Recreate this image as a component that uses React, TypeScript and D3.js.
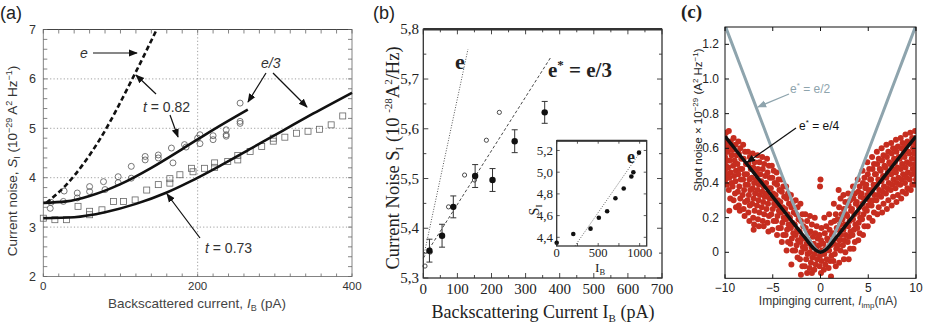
import React from "react";
import * as d3 from "d3";

const SANS = "'Liberation Sans', Arial, sans-serif";
const SERIF = "'Liberation Serif', 'Times New Roman', serif";

// ---------- panel (a) ----------
const aXTicks = [0, 200, 400];
const aYTicks = [2, 3, 4, 5, 6, 7];
const aCircles: [number, number][] = [
  [9, 3.38], [10, 3.5], [26, 3.52], [27, 3.73], [44, 3.69], [44, 3.59], [60, 3.82], [60, 3.72],
  [78, 3.92], [80, 3.76], [97, 4.02], [97, 3.9], [114, 3.99], [114, 4.23], [132, 4.43], [132, 4.36],
  [149, 4.46], [149, 4.4], [166, 4.6], [168, 4.3], [183, 4.67], [185, 4.62], [200, 4.8], [203, 4.87],
  [203, 4.69], [220, 4.77], [220, 4.85], [237, 4.97], [237, 4.87], [237, 4.84], [255, 5.51],
  [255, 5.14], [255, 5.1],
];
const aSquares: [number, number][] = [
  [0, 3.18], [15, 3.15], [30, 3.15], [45, 3.42], [60, 3.32], [60, 3.25], [76, 3.35], [91, 3.52],
  [104, 3.52], [119, 3.55], [134, 3.75], [149, 3.86], [164, 3.89], [164, 3.98], [177, 4.06],
  [192, 4.19], [194, 4.12], [209, 4.19], [222, 4.21], [222, 4.3], [239, 4.33], [252, 4.36],
  [252, 4.45], [268, 4.53], [283, 4.63], [298, 4.74], [298, 4.8], [313, 4.82], [328, 4.9],
  [343, 4.94], [358, 4.98], [373, 5.07], [388, 5.25],
];
const aFitHigh: [number, number][] = [
  [0, 3.49], [30, 3.52], [60, 3.63], [100, 3.87], [140, 4.2], [180, 4.58], [220, 4.97], [265, 5.38],
];
const aFitLow: [number, number][] = [
  [0, 3.18], [40, 3.2], [80, 3.3], [120, 3.47], [160, 3.7], [190, 3.92], [230, 4.25], [270, 4.6],
  [310, 4.95], [350, 5.3], [400, 5.72],
];
const aFitE: [number, number][] = [[4, 3.49], [30, 3.86], [73, 4.77], [116, 6.02], [146, 6.97]];

// ---------- panel (b) ----------
const bXTicks = [0, 100, 200, 300, 400, 500, 600, 700];
const bYTicks = [5.3, 5.4, 5.5, 5.6, 5.7, 5.8];
// [I_B, S_I, error]
const bFilled: [number, number, number][] = [
  [18, 5.355, 0.023], [55, 5.385, 0.023], [88, 5.443, 0.022], [152, 5.505, 0.023],
  [203, 5.497, 0.023], [268, 5.575, 0.023], [356, 5.633, 0.022],
];
const bOpen: [number, number][] = [
  [5, 5.324], [20, 5.352], [74, 5.443], [121, 5.507], [150, 5.497], [185, 5.577], [223, 5.633],
];
const bLineE: [number, number][] = [[0, 5.34], [131, 5.76]];
const bLineE3: [number, number][] = [[0, 5.34], [375, 5.745]];
const insetX = [0, 200, 408, 508, 608, 708, 808, 900, 924, 992];
const insetY = [4.35, 4.43, 4.48, 4.58, 4.64, 4.76, 4.85, 4.96, 5.0, 5.18];
const insetXTicks = [0, 500, 1000];
const insetYTicks = [4.4, 4.6, 4.8, 5.0, 5.2];
const insetLine: [number, number][] = [[220, 4.32], [1020, 5.2]];

// ---------- panel (c) ----------
const cXTicks = [-10, -5, 0, 5, 10];
const cYTicks = [0, 0.2, 0.4, 0.6, 0.8, 1.0, 1.2];
const cGreyX = [-10, -9, -8, -7, -6, -5, -4, -3, -2.5, -2, -1.5, -1, -0.5, 0, 0.5, 1, 1.5, 2, 2.5, 3, 4, 5, 6, 7, 8, 9, 10];
const cGreyY = [1.31, 1.165, 1.02, 0.875, 0.73, 0.585, 0.44, 0.3, 0.235, 0.17, 0.11, 0.06, 0.02, 0, 0.02, 0.06, 0.11, 0.17, 0.235, 0.3, 0.44, 0.585, 0.73, 0.875, 1.02, 1.165, 1.31];
const cBlackX = [-10, -9, -8, -7, -6, -5, -4, -3, -2, -1.5, -1, -0.5, 0, 0.5, 1, 1.5, 2, 3, 4, 5, 6, 7, 8, 9, 10];
const cBlackY = [0.67, 0.6, 0.53, 0.46, 0.39, 0.32, 0.25, 0.18, 0.11, 0.075, 0.04, 0.012, 0, 0.012, 0.04, 0.075, 0.11, 0.18, 0.25, 0.32, 0.39, 0.46, 0.53, 0.6, 0.67];
const shotNoise: [number, number][] = [
  [-9.9,.69],[-10,.66],[-9.8,.64],[-9.95,.61],[-9.85,.58],[-10,.55],[-9.8,.53],[-9.9,.5],[-10,.47],[-9.85,.45],[-9.95,.42],[-9.8,.39],
  [-9.6,.7],[-9.4,.64],[-9.5,.61],[-9.7,.58],[-9.3,.56],[-9.5,.53],[-9.65,.49],[-9.4,.46],[-9.55,.43],[-9.3,.4],[-9.6,.36],[-9.45,.31],[-9.55,.24],
  [-9.1,.66],[-8.9,.62],[-9.2,.59],[-8.8,.56],[-9,.53],[-9.15,.5],[-8.85,.47],[-9.05,.44],[-8.9,.41],[-9.2,.38],[-8.95,.34],[-9.1,.3],[-8.85,.26],
  [-8.6,.64],[-8.4,.6],[-8.55,.57],[-8.3,.54],[-8.7,.51],[-8.45,.48],[-8.6,.45],[-8.35,.42],[-8.5,.38],[-8.65,.35],[-8.4,.31],[-8.55,.27],[-8.45,.24],
  [-8.1,.62],[-7.9,.58],[-8.05,.54],[-7.8,.51],[-8.2,.48],[-7.95,.45],[-8.1,.42],[-7.85,.39],[-8,.36],[-8.15,.33],[-7.9,.29],[-8.05,.25],[-7.95,.21],
  [-7.6,.58],[-7.4,.55],[-7.55,.51],[-7.3,.48],[-7.7,.45],[-7.45,.42],[-7.6,.39],[-7.35,.36],[-7.5,.33],[-7.65,.3],[-7.4,.27],[-7.55,.23],[-7.45,.18],
  [-7.1,.57],[-6.9,.52],[-7.05,.49],[-6.8,.46],[-7.2,.43],[-6.95,.4],[-7.1,.37],[-6.85,.34],[-7,.31],[-7.15,.28],[-6.9,.24],[-7.05,.2],[-6.95,.16],[-7,.13],
  [-6.6,.56],[-6.4,.52],[-6.55,.48],[-6.3,.45],[-6.7,.42],[-6.45,.39],[-6.6,.36],[-6.35,.33],[-6.5,.3],[-6.65,.27],[-6.4,.23],[-6.55,.19],[-6.45,.15],
  [-6.1,.55],[-5.9,.51],[-6.05,.48],[-5.8,.44],[-6.2,.41],[-5.95,.38],[-6.1,.35],[-5.85,.32],[-6,.29],[-6.15,.26],[-5.9,.22],[-6.05,.18],[-5.95,.15],
  [-5.6,.54],[-5.4,.5],[-5.55,.46],[-5.3,.43],[-5.7,.4],[-5.45,.37],[-5.6,.34],[-5.35,.31],[-5.5,.28],[-5.65,.25],[-5.4,.21],[-5.55,.17],[-5.45,.12],
  [-5.1,.5],[-4.9,.47],[-5.05,.43],[-4.8,.4],[-5.2,.37],[-4.95,.34],[-5.1,.31],[-4.85,.28],[-5,.25],[-5.15,.22],[-4.9,.18],[-5.05,.13],
  [-4.6,.46],[-4.4,.42],[-4.55,.39],[-4.3,.36],[-4.7,.33],[-4.45,.3],[-4.6,.27],[-4.35,.24],[-4.5,.21],[-4.65,.18],[-4.4,.14],[-4.55,.1],
  [-4.1,.42],[-3.9,.38],[-4.05,.35],[-3.8,.32],[-4.2,.29],[-3.95,.26],[-4.1,.23],[-3.85,.2],[-4,.17],[-4.15,.14],[-3.9,.1],[-4.05,.06],
  [-3.6,.38],[-3.4,.34],[-3.55,.31],[-3.3,.28],[-3.7,.25],[-3.45,.22],[-3.6,.19],[-3.35,.16],[-3.5,.13],[-3.65,.1],[-3.4,.06],[-3.55,.01],
  [-3.1,.33],[-2.9,.29],[-3.05,.26],[-2.8,.23],[-3.2,.2],[-2.95,.17],[-3.1,.14],[-2.85,.11],[-3,.08],[-3.15,.05],[-2.9,.01],[-3.05,-.07],
  [-2.6,.3],[-2.4,.26],[-2.55,.22],[-2.3,.19],[-2.7,.16],[-2.45,.13],[-2.6,.1],[-2.35,.07],[-2.5,.04],[-2.65,.01],[-2.4,-.03],
  [-2.1,.28],[-1.9,.22],[-2.05,.18],[-1.8,.15],[-2.2,.12],[-1.95,.09],[-2.1,.06],[-1.85,.03],[-2,0],[-2.15,-.04],[-1.9,-.08],[-2.05,-.13],
  [-1.6,.22],[-1.4,.18],[-1.55,.14],[-1.3,.11],[-1.7,.08],[-1.45,.05],[-1.6,.02],[-1.35,-.01],[-1.5,-.04],[-1.65,-.08],[-1.4,-.12],
  [-1.1,.21],[-0.9,.16],[-1.05,.12],[-0.8,.09],[-1.2,.06],[-0.95,.03],[-1.1,0],[-0.85,-.03],[-1,-.06],[-1.15,-.09],[-0.9,-.12],
  [-0.6,.2],[-0.4,.15],[-0.55,.11],[-0.3,.08],[-0.7,.05],[-0.45,.02],[-0.6,-.01],[-0.35,-.04],[-0.5,-.07],[-0.65,-.1],
  [0,.42],[-0.05,.38],[0.1,.14],[-0.1,.1],[0.05,.07],[-0.15,.04],[0.15,.01],[-0.05,-.02],[0.1,-.05],[-0.1,-.08],[0.05,-.12],
  [0.4,.2],[0.6,.15],[0.45,.11],[0.7,.08],[0.3,.05],[0.55,.02],[0.4,-.01],[0.65,-.04],[0.5,-.07],[0.35,-.1],
  [0.9,.22],[1.1,.17],[0.95,.13],[1.2,.1],[0.8,.07],[1.05,.04],[0.9,.01],[1.15,-.02],[1,-.05],[0.85,-.09],[1.1,-.14],
  [1.4,.28],[1.6,.22],[1.45,.18],[1.7,.14],[1.3,.11],[1.55,.08],[1.4,.05],[1.65,.02],[1.5,-.01],[1.35,-.05],[1.6,-.08],
  [1.9,.36],[2.1,.31],[1.95,.26],[2.2,.22],[1.8,.19],[2.05,.16],[1.9,.13],[2.15,.1],[2,.07],[1.85,.04],[2.1,.01],[1.95,-.06],
  [2.4,.33],[2.6,.29],[2.45,.25],[2.7,.22],[2.3,.19],[2.55,.16],[2.4,.13],[2.65,.1],[2.5,.07],[2.35,.04],[2.6,0],[2.45,-.04],
  [2.9,.34],[3.1,.3],[2.95,.27],[3.2,.24],[2.8,.21],[3.05,.18],[2.9,.15],[3.15,.12],[3,.09],[2.85,.06],[3.1,.02],[2.95,-.04],
  [3.4,.38],[3.6,.34],[3.45,.31],[3.7,.28],[3.3,.25],[3.55,.22],[3.4,.19],[3.65,.16],[3.5,.13],[3.35,.1],[3.6,.06],[3.45,.02],
  [3.9,.42],[4.1,.38],[3.95,.35],[4.2,.32],[3.8,.29],[4.05,.26],[3.9,.23],[4.15,.2],[4,.17],[3.85,.14],[4.1,.11],[3.95,.07],
  [4.4,.47],[4.6,.43],[4.45,.4],[4.7,.37],[4.3,.34],[4.55,.31],[4.4,.28],[4.65,.25],[4.5,.22],[4.35,.19],[4.6,.15],[4.45,.1],
  [4.9,.52],[5.1,.48],[4.95,.45],[5.2,.42],[4.8,.39],[5.05,.36],[4.9,.33],[5.15,.3],[5,.27],[4.85,.24],[5.1,.2],[4.95,.15],
  [5.4,.55],[5.6,.51],[5.45,.48],[5.7,.45],[5.3,.42],[5.55,.39],[5.4,.36],[5.65,.33],[5.5,.3],[5.35,.27],[5.6,.23],[5.45,.18],
  [5.9,.58],[6.1,.54],[5.95,.51],[6.2,.48],[5.8,.45],[6.05,.42],[5.9,.39],[6.15,.36],[6,.33],[5.85,.3],[6.1,.26],[5.95,.22],
  [6.4,.6],[6.6,.56],[6.45,.53],[6.7,.5],[6.3,.47],[6.55,.44],[6.4,.41],[6.65,.38],[6.5,.35],[6.35,.32],[6.6,.28],[6.45,.23],
  [6.9,.62],[7.1,.58],[6.95,.55],[7.2,.52],[6.8,.49],[7.05,.46],[6.9,.43],[7.15,.4],[7,.37],[6.85,.34],[7.1,.3],[6.95,.25],
  [7.4,.63],[7.6,.6],[7.45,.57],[7.7,.54],[7.3,.51],[7.55,.48],[7.4,.45],[7.65,.42],[7.5,.39],[7.35,.36],[7.6,.32],[7.45,.27],
  [7.9,.65],[8.1,.61],[7.95,.58],[8.2,.55],[7.8,.52],[8.05,.49],[7.9,.46],[8.15,.43],[8,.4],[7.85,.37],[8.1,.33],[7.95,.29],
  [8.4,.66],[8.6,.63],[8.45,.6],[8.7,.57],[8.3,.54],[8.55,.51],[8.4,.48],[8.65,.45],[8.5,.42],[8.35,.39],[8.6,.35],[8.45,.31],
  [8.9,.68],[9.1,.64],[8.95,.61],[9.2,.58],[8.8,.55],[9.05,.52],[8.9,.49],[9.15,.46],[9,.43],[8.85,.4],[9.1,.37],[8.95,.34],
  [9.4,.69],[9.6,.66],[9.45,.63],[9.7,.6],[9.3,.57],[9.55,.54],[9.4,.51],[9.65,.48],[9.5,.45],[9.35,.42],[9.6,.39],[9.45,.36],
  [9.9,.7],[10,.66],[9.85,.63],[9.95,.6],[9.8,.57],[10,.54],[9.9,.51],[9.85,.48],[9.95,.45],[10,.42],[9.9,.39],
];

const fmtComma = (v: number) => v.toFixed(1).replace(".", ",");

function PanelA() {
  const x = d3.scaleLinear().domain([0, 400]).range([43.3, 352]);
  const y = d3.scaleLinear().domain([2, 7]).range([276.5, 29.5]);
  const line = d3.line<[number, number]>().x((d) => x(d[0])).y((d) => y(d[1])).curve(d3.curveMonotoneX);
  const [x0, x1] = x.range();
  const [y0, y1] = y.range();
  const xMinor = d3.range(0, 401, 20);
  const yMinor = d3.range(2, 7.01, 0.2);
  const txt = "#333";
  return (
    <g fontFamily={SANS}>
      <text x={0} y={19} fontSize={18} fill="#222">(a)</text>
      {[3, 4, 5, 6].map((v) => (
        <line key={v} x1={x0} x2={x1} y1={y(v)} y2={y(v)} stroke="#888" strokeWidth={0.8} strokeDasharray="1.2,2.2" />
      ))}
      <line x1={x(200)} x2={x(200)} y1={y0} y2={y1} stroke="#888" strokeWidth={0.8} strokeDasharray="1.2,2.2" />
      <rect x={x0} y={y1} width={x1 - x0} height={y0 - y1} fill="none" stroke="#777" strokeWidth={0.9} />
      <line x1={x0} x2={x1} y1={y1} y2={y1} stroke="#444" strokeWidth={1.2} />
      {xMinor.map((v) => (
        <g key={v} stroke="#666" strokeWidth={0.8}>
          <line x1={x(v)} x2={x(v)} y1={y1} y2={y1 + 4} />
          <line x1={x(v)} x2={x(v)} y1={y0} y2={y0 - 3} />
        </g>
      ))}
      {yMinor.map((v) => (
        <g key={v} stroke="#666" strokeWidth={0.8}>
          <line x1={x0} x2={x0 + 4} y1={y(v)} y2={y(v)} />
          <line x1={x1} x2={x1 - 4} y1={y(v)} y2={y(v)} />
        </g>
      ))}
      {aYTicks.map((v) => (
        <text key={v} x={36} y={y(v) + 4.5} fontSize={12.5} textAnchor="end" fill={txt}>{v}</text>
      ))}
      {aXTicks.map((v) => (
        <text key={v} x={x(v)} y={290} fontSize={11.5} textAnchor="middle" fill={txt}>{v}</text>
      ))}
      {aCircles.map((d, i) => (
        <circle key={i} cx={x(d[0])} cy={y(d[1])} r={3} fill="none" stroke="#555" strokeWidth={0.8} />
      ))}
      {aSquares.map((d, i) => (
        <rect key={i} x={x(d[0]) - 3} y={y(d[1]) - 3} width={6} height={6} fill="none" stroke="#666" strokeWidth={0.8} />
      ))}
      <path d={line(aFitHigh) ?? ""} fill="none" stroke="#111" strokeWidth={2.6} />
      <path d={line(aFitLow) ?? ""} fill="none" stroke="#111" strokeWidth={2.6} />
      <path d={line(aFitE) ?? ""} fill="none" stroke="#111" strokeWidth={2.6} strokeDasharray="5,3" />
      <g fontSize={14} fill={txt}>
        <text x={80} y={58} fontStyle="italic">e</text>
        <text x={143} y={112}><tspan fontStyle="italic">t</tspan> = 0.82</text>
        <text x={261} y={68} fontStyle="italic">e/3</text>
        <text x={205} y={253}><tspan fontStyle="italic">t</tspan> = 0.73</text>
      </g>
      <g stroke="#111" strokeWidth={1.2} markerEnd="url(#ahK)">
        <line x1={93} y1={53} x2={137} y2={53} />
        <line x1={156} y1={94} x2={136} y2={75} />
        <line x1={170} y1={115} x2={178} y2={137} />
        <line x1={266} y1={73} x2={248} y2={102} />
        <line x1={273} y1={73} x2={307} y2={107} />
        <line x1={200} y1={238} x2={167} y2={194} />
      </g>
      <text transform="translate(17,161) rotate(-90)" textAnchor="middle" fontSize={13.5} fill={txt}>
        Current noise, <tspan fontStyle="italic">S</tspan><tspan fontSize={9} dy={3}>I</tspan>
        <tspan dy={-3}> (10</tspan><tspan fontSize={9} dy={-5}>−29</tspan><tspan dy={5}> A</tspan>
        <tspan fontSize={9} dy={-5}>2</tspan><tspan dy={5}> Hz</tspan><tspan fontSize={9} dy={-5}>−1</tspan>
        <tspan dy={5}>)</tspan>
      </text>
      <text x={197} y={308} textAnchor="middle" fontSize={13.5} fill="#444">
        Backscattered current, <tspan fontStyle="italic">I</tspan><tspan fontSize={9} dy={3}>B</tspan>
        <tspan dy={-3}> (pA)</tspan>
      </text>
    </g>
  );
}

function PanelB() {
  const x = d3.scaleLinear().domain([0, 700]).range([423.3, 662]);
  const y = d3.scaleLinear().domain([5.3, 5.8]).range([278, 29.3]);
  const [x0, x1] = x.range();
  const [y0, y1] = y.range();
  const ix = d3.scaleLinear().domain([0, 1085]).range([556.7, 646.7]);
  const iy = d3.scaleLinear().domain([4.32, 5.29]).range([246, 140.7]);
  const xMinor = d3.range(0, 701, 50);
  const yMinor = d3.range(5.3, 5.801, 0.05);
  const col = "#222";
  return (
    <g fontFamily={SERIF} fill={col}>
      <text x={373} y={19} fontSize={18} fontFamily={SANS}>(b)</text>
      <line x1={x(bLineE[0][0])} y1={y(bLineE[0][1])} x2={x(bLineE[1][0])} y2={y(bLineE[1][1])} stroke="#444" strokeWidth={0.9} strokeDasharray="1,1.6" />
      <line x1={x(bLineE3[0][0])} y1={y(bLineE3[0][1])} x2={x(bLineE3[1][0])} y2={y(bLineE3[1][1])} stroke="#333" strokeWidth={0.9} strokeDasharray="3,2.2" />
      {bOpen.map((d, i) => (
        <circle key={i} cx={x(d[0])} cy={y(d[1])} r={2.1} fill="white" stroke="#222" strokeWidth={0.8} />
      ))}
      {bFilled.map((d, i) => (
        <g key={i} stroke="#333" strokeWidth={1}>
          <line x1={x(d[0])} x2={x(d[0])} y1={y(d[1] - d[2])} y2={y(d[1] + d[2])} />
          <line x1={x(d[0]) - 3} x2={x(d[0]) + 3} y1={y(d[1] - d[2])} y2={y(d[1] - d[2])} />
          <line x1={x(d[0]) - 3} x2={x(d[0]) + 3} y1={y(d[1] + d[2])} y2={y(d[1] + d[2])} />
          <circle cx={x(d[0])} cy={y(d[1])} r={3.2} fill="#111" stroke="none" />
        </g>
      ))}
      {/* inset */}
      <rect x={ix(0)} y={iy(5.29)} width={ix(1085) - ix(0)} height={iy(4.32) - iy(5.29)} fill="white" stroke="#333" strokeWidth={1.3} />
      <line x1={ix(0)} x2={ix(1085)} y1={iy(5.29)} y2={iy(5.29)} stroke="#333" strokeWidth={2} />
      <line x1={ix(insetLine[0][0])} y1={iy(insetLine[0][1])} x2={ix(insetLine[1][0])} y2={iy(insetLine[1][1])} stroke="#444" strokeWidth={0.8} strokeDasharray="1,1.5" />
      {insetX.map((v, i) => (
        <circle key={i} cx={ix(v)} cy={iy(insetY[i])} r={2.3} fill="#111" />
      ))}
      {d3.range(0, 1001, 250).map((v) => (
        <g key={v} stroke="#333" strokeWidth={0.8}>
          <line x1={ix(v)} x2={ix(v)} y1={iy(5.29)} y2={iy(5.29) + 3} />
          <line x1={ix(v)} x2={ix(v)} y1={iy(4.32)} y2={iy(4.32) - 3} />
        </g>
      ))}
      {insetYTicks.map((v) => (
        <g key={v}>
          <line x1={ix(0)} x2={ix(0) + 3} y1={iy(v)} y2={iy(v)} stroke="#333" strokeWidth={0.8} />
          <line x1={ix(1085)} x2={ix(1085) - 3} y1={iy(v)} y2={iy(v)} stroke="#333" strokeWidth={0.8} />
          <text x={553} y={iy(v) + 4.5} fontSize={13} textAnchor="end">{fmtComma(v)}</text>
        </g>
      ))}
      {insetXTicks.map((v) => (
        <text key={v} x={ix(v)} y={256.5} fontSize={12.5} textAnchor="middle">{v}</text>
      ))}
      <text x={627} y={163} fontSize={18} fontWeight="bold">e</text>
      <text transform="translate(539,210) rotate(-90)" textAnchor="middle" fontSize={14}>
        S<tspan fontSize={9} dy={3}>I</tspan>
      </text>
      <text x={600} y={272} fontSize={13.5} textAnchor="middle">
        I<tspan fontSize={8.5} dy={3}>B</tspan>
      </text>
      {/* frame & axes */}
      <rect x={x0} y={y1} width={x1 - x0} height={y0 - y1} fill="none" stroke="#333" strokeWidth={1.3} />
      <line x1={x0} x2={x1} y1={y1} y2={y1} stroke="#333" strokeWidth={2.4} />
      {xMinor.map((v, i) => (
        <g key={v} stroke="#333" strokeWidth={0.9}>
          <line x1={x(v)} x2={x(v)} y1={y1} y2={y1 + (i % 2 ? 3 : 5)} />
          <line x1={x(v)} x2={x(v)} y1={y0} y2={y0 - (i % 2 ? 3 : 5)} />
        </g>
      ))}
      {yMinor.map((v, i) => (
        <g key={i} stroke="#333" strokeWidth={0.9}>
          <line x1={x0} x2={x0 + (i % 2 ? 3 : 5)} y1={y(v)} y2={y(v)} />
          <line x1={x1} x2={x1 - (i % 2 ? 3 : 5)} y1={y(v)} y2={y(v)} />
        </g>
      ))}
      {bYTicks.map((v) => (
        <text key={v} x={419} y={y(v) + 5} fontSize={15} textAnchor="end">{fmtComma(v)}</text>
      ))}
      {bXTicks.map((v) => (
        <text key={v} x={x(v)} y={294} fontSize={15} textAnchor="middle">{v}</text>
      ))}
      <text x={455} y={69} fontSize={22} fontWeight="bold">e</text>
      <text x={548} y={77} fontSize={21} fontWeight="bold">
        e<tspan fontSize={13} dy={-8}>*</tspan><tspan dy={8}> = e/3</tspan>
      </text>
      <text transform="translate(399,158) rotate(-90)" textAnchor="middle" fontSize={18.5}>
        Current Noise S<tspan fontSize={11} dy={4}>I</tspan><tspan dy={-4}> (10 </tspan>
        <tspan fontSize={11} dy={-7}>-28</tspan><tspan dy={7}>A</tspan><tspan fontSize={11} dy={-7}>2</tspan>
        <tspan dy={7}>/Hz)</tspan>
      </text>
      <text x={543} y={318} textAnchor="middle" fontSize={18}>
        Backscattering Current I<tspan fontSize={11} dy={4}>B</tspan><tspan dy={-4}> (pA)</tspan>
      </text>
    </g>
  );
}

function PanelC() {
  const x = d3.scaleLinear().domain([-10, 10]).range([725, 916]);
  const y = d3.scaleLinear().domain([-0.15, 1.3]).range([278.3, 27]);
  const [x0, x1] = x.range();
  const [y0, y1] = y.range();
  const grey = d3.line<number>().curve(d3.curveMonotoneX).x((d) => x(d)).y((_, i) => y(cGreyY[i]))(cGreyX) ?? "";
  const black = d3.line<number>().curve(d3.curveMonotoneX).x((d) => x(d)).y((_, i) => y(cBlackY[i]))(cBlackX) ?? "";
  return (
    <g fontFamily={SANS}>
      <text x={681} y={18} fontSize={19} fontFamily={SERIF} fontWeight="bold" fill="#222">(c)</text>
      <defs>
        <clipPath id="clipC">
          <rect x={x0} y={y1} width={x1 - x0} height={y0 - y1} />
        </clipPath>
      </defs>
      <g clipPath="url(#clipC)">
        {shotNoise.map((d, i) => (
          <circle key={i} cx={x(d[0])} cy={y(d[1])} r={3} fill="#c62d1f" />
        ))}
        <path d={grey} fill="none" stroke="#8ea4ad" strokeWidth={3} />
        <path d={black} fill="none" stroke="#111" strokeWidth={3.4} />
      </g>
      <rect x={x0} y={y1} width={x1 - x0} height={y0 - y1} fill="none" stroke="#111" strokeWidth={1} />
      {cXTicks.map((v) => (
        <g key={v}>
          <line x1={x(v)} x2={x(v)} y1={y0} y2={y0 - 4} stroke="#111" />
          <line x1={x(v)} x2={x(v)} y1={y1} y2={y1 + 4} stroke="#111" />
          <text x={x(v)} y={292} fontSize={12} textAnchor="middle" fill="#222">{v < 0 ? `−${-v}` : v}</text>
        </g>
      ))}
      {cYTicks.map((v) => (
        <g key={v}>
          <line x1={x0} x2={x0 + 4} y1={y(v)} y2={y(v)} stroke="#111" />
          <line x1={x1} x2={x1 - 4} y1={y(v)} y2={y(v)} stroke="#111" />
          <text x={719} y={y(v) + 4} fontSize={12} textAnchor="end" fill="#222">{v === 0 ? "0" : v.toFixed(1)}</text>
        </g>
      ))}
      <text x={790} y={93} fontSize={12} fill="#8ea4ad">
        e<tspan fontSize={8} dy={-5}>*</tspan><tspan dy={5}> = e/2</tspan>
      </text>
      <line x1={789} y1={94} x2={758} y2={107} stroke="#8ea4ad" strokeWidth={1.3} markerEnd="url(#ahG)" />
      <text x={799} y={130} fontSize={12} fill="#111">
        e<tspan fontSize={8} dy={-5}>*</tspan><tspan dy={5}> = e/4</tspan>
      </text>
      <line x1={796} y1={128} x2={747} y2={162.5} stroke="#111" strokeWidth={1.2} markerEnd="url(#ahK)" />
      <text transform="translate(702,120) rotate(-90)" textAnchor="middle" fontSize={11.5} fill="#222">
        Shot noise × 10<tspan fontSize={8} dy={-4}>−29</tspan><tspan dy={4}> (A</tspan>
        <tspan fontSize={8} dy={-4}>2</tspan><tspan dy={4}> Hz</tspan><tspan fontSize={8} dy={-4}>−1</tspan>
        <tspan dy={4}>)</tspan>
      </text>
      <text x={828} y={305} fontSize={12} textAnchor="middle" fill="#333">
        Impinging current, <tspan fontStyle="italic">I</tspan><tspan fontSize={8} dy={3}>imp</tspan>
        <tspan dy={-3}>(nA)</tspan>
      </text>
    </g>
  );
}

export default function App() {
  return (
    <svg width={926} height={325} style={{ position: "absolute", left: 0, top: 0, background: "white" }}>
      <defs>
        <marker id="ahK" viewBox="0 0 10 10" refX={9} refY={5} markerWidth={9} markerHeight={9} markerUnits="userSpaceOnUse" orient="auto">
          <path d="M0,1 L10,5 L0,9 z" fill="#111" />
        </marker>
        <marker id="ahG" viewBox="0 0 10 10" refX={9} refY={5} markerWidth={9} markerHeight={9} markerUnits="userSpaceOnUse" orient="auto">
          <path d="M0,1 L10,5 L0,9 z" fill="#8ea4ad" />
        </marker>
      </defs>
      <rect width={926} height={325} fill="white" />
      <PanelA />
      <PanelB />
      <PanelC />
    </svg>
  );
}
